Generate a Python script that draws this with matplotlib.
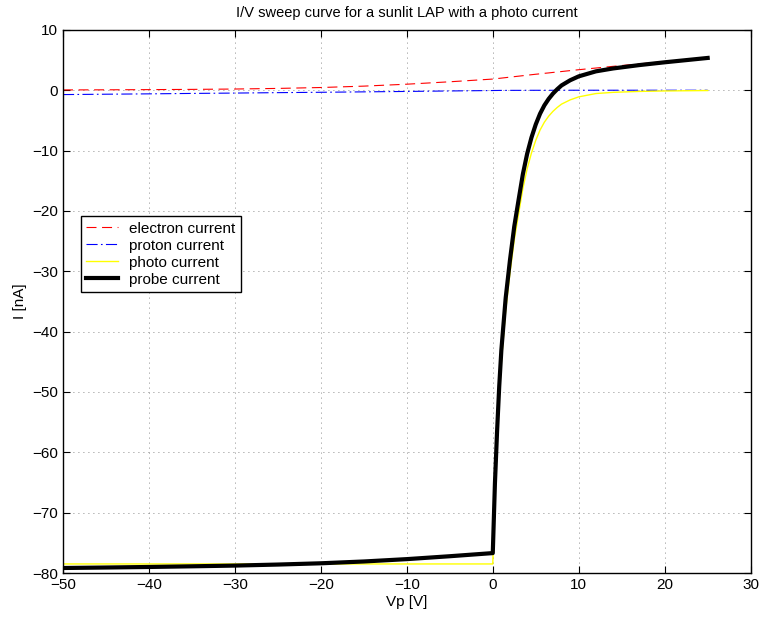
import numpy as np
import matplotlib.pyplot as plt

plt.rcParams['font.family'] = ['Liberation Sans', 'DejaVu Sans']

# probe bias [V]
vp = [-50, -45, -40, -35, -30, -25, -20, -15, -10, -5,
      0, 0.25, 0.5, 0.75, 1, 1.5, 2, 2.5, 3, 3.5, 4, 4.5, 5, 5.5, 6, 6.5,
      7, 7.5, 8, 9, 10, 12, 14, 17, 20, 25]

# current components [nA]
i_electron = [0.05, 0.07, 0.1, 0.14, 0.2, 0.3, 0.45, 0.68, 1.0, 1.4,
              1.85, 1.89, 1.93, 1.97, 2.01, 2.09, 2.17, 2.25, 2.33, 2.41, 2.49,
              2.57, 2.65, 2.72, 2.8, 2.87, 2.95, 3.02, 3.1, 3.25, 3.4, 3.68,
              3.96, 4.36, 4.75, 5.4]
i_proton = [-0.72, -0.66, -0.6, -0.53, -0.47, -0.4, -0.34, -0.27, -0.2, -0.12,
            -0.05, -0.04, -0.04, -0.03, -0.03, -0.03, -0.02, -0.02, -0.02, -0.02,
            -0.01, -0.01, -0.01, -0.01, -0.01, -0.01, -0.01, 0, 0, 0, 0, 0,
            0, 0, 0, 0]
i_photo = [-78.5, -78.5, -78.5, -78.5, -78.5, -78.5, -78.5, -78.5, -78.5, -78.5,
           -78.5, -67.0, -58.4, -51.0, -45.0, -36.5, -30.3, -24.8, -20.5, -16.3,
           -13.0, -10.4, -8.3, -6.6, -5.3, -4.3, -3.5, -2.85, -2.3, -1.6, -1.1,
           -0.55, -0.35, -0.2, -0.12, -0.05]

v = np.array(vp)
i_probe = np.array(i_electron) + np.array(i_proton) + np.array(i_photo)

fig = plt.figure(figsize=(7.59, 6.2), dpi=100)
ax = fig.add_axes([0.083, 0.0758, 0.906, 0.876])

ax.plot(v, i_electron, color='red', lw=0.8, dashes=(9, 5), label='electron current')
ax.plot(v, i_proton, color='blue', lw=0.8, dashes=(10, 3, 1.5, 3), label='proton current')
ax.plot(v, i_photo, color='yellow', lw=1.0, label='photo current')
ax.plot(v, i_probe, color='black', lw=3, label='probe current')

ax.set_xlim(-50, 30)
ax.set_ylim(-80, 10)
ax.set_xticks(np.arange(-50, 31, 10))
ax.set_yticks(np.arange(-80, 11, 10))
ax.grid(True, color='0.4', linestyle=(0, (1, 5)), lw=0.6)
ax.tick_params(direction='in', top=True, right=True, length=5, width=0.8,
               labelsize=11)
for s in ax.spines.values():
    s.set_linewidth(1.0)

ax.set_title('I/V sweep curve for a sunlit LAP with a photo current',
             fontsize=10.5, pad=9)
ax.set_xlabel('Vp [V]', fontsize=11, labelpad=2)
ax.set_ylabel('I [nA]', fontsize=11, labelpad=4)

leg = ax.legend(loc='upper left', bbox_to_anchor=(0.026, 0.657),
                borderaxespad=0, fontsize=11, fancybox=False,
                framealpha=1, edgecolor='black', handlelength=2.1,
                handletextpad=0.7, labelspacing=0.2, borderpad=0.35)
leg.get_frame().set_linewidth(1.0)

fig.savefig('out.png', dpi=100)
